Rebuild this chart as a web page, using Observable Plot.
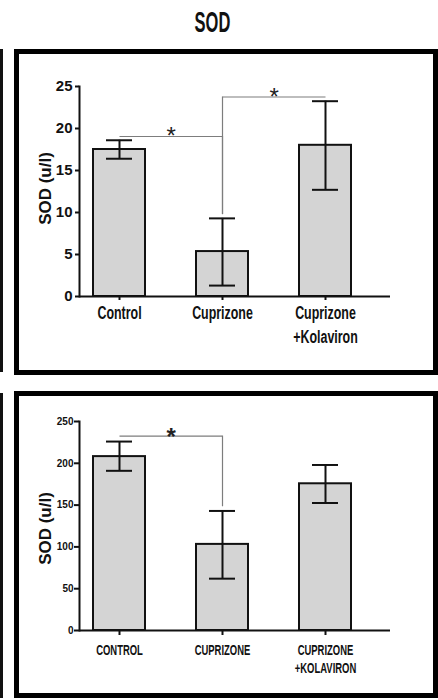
<!DOCTYPE html>
<html>
<head>
<meta charset="utf-8">
<script src="https://cdn.jsdelivr.net/npm/d3@7"></script>
<script src="https://cdn.jsdelivr.net/npm/@observablehq/plot@0.6"></script>
<style>
html,body{margin:0;padding:0;background:#fff;}
body{position:relative;width:438px;height:700px;overflow:hidden;font-family:"Liberation Sans",Arial,sans-serif;}
#title{position:absolute;left:0;top:7px;width:425px;text-align:center;font-family:"Liberation Sans",Arial,sans-serif;font-weight:bold;font-size:30px;line-height:30px;transform:scaleX(0.55);transform-origin:212.5px 0;color:#111;}
.panel{position:absolute;box-sizing:border-box;border:5px solid #000;background:#fff;}
.panel svg{display:block;}
.edge{position:absolute;left:0;width:3px;background:#111;}
</style>
</head>
<body>
<div class="edge" style="top:49px;height:323px"></div>
<div class="edge" style="top:393px;height:305px"></div>
<div id="title">SOD</div>
<div class="panel" id="p1" style="left:14px;top:49px;width:424px;height:326px"></div>
<div class="panel" id="p2" style="left:14px;top:391px;width:424px;height:307px"></div>
<script>
// ---- Panel 1 data ----
const groups1 = ["Control", "Cuprizone", "Cuprizone\n+Kolaviron"];
const mean1 = [17.5, 5.35, 18.0];
const low1 = [16.4, 1.3, 12.7];
const high1 = [18.6, 9.3, 23.25];
const yTicks1 = [0, 5, 10, 15, 20, 25];
const sigFrom1 = [0, 1];
const sigTo1 = [1, 2];
const sigLevel1 = [19.05, 23.75];
const sigDropAt1 = [1, 1];
const sigDropTo1 = [9.75, 9.75];
const yLabel1 = "SOD (u/l)";

// ---- Panel 2 data ----
const groups2 = ["CONTROL", "CUPRIZONE", "CUPRIZONE\n+KOLAVIRON"];
const mean2 = [208, 103, 175.5];
const low2 = [191, 62, 152.5];
const high2 = [226, 143, 198];
const yTicks2 = [0, 50, 100, 150, 200, 250];
const sigFrom2 = [0];
const sigTo2 = [1];
const sigLevel2 = [232.5];
const sigDropAt2 = [1];
const sigDropTo2 = [148];
const yLabel2 = "SOD (u/l)";

const FONT = "'Liberation Sans', Arial, sans-serif";

function condense(root, selector, factor) {
  root.querySelectorAll(selector + " text").forEach(t => {
    const spans = t.querySelectorAll("tspan");
    const targets = spans.length ? Array.from(spans) : [t];
    targets.forEach(el => {
      const w = el.getComputedTextLength();
      if (w > 0) {
        el.setAttribute("textLength", (w * factor).toFixed(2));
        el.setAttribute("lengthAdjust", "spacingAndGlyphs");
      }
    });
  });
}

function makePanel(c) {
  const rows = c.groups.map((g, i) => ({g, m: c.mean[i], lo: c.low[i], hi: c.high[i]}));
  const sig = c.sigFrom.map((f, i) => ({
    a: c.groups[f], b: c.groups[c.sigTo[i]], y: c.sigLevel[i],
    at: c.groups[c.sigDropAt[i]], drop: c.sigDropTo[i]
  }));
  return Plot.plot({
    width: 414,
    height: c.height,
    marginLeft: 60,
    marginRight: 43,
    marginTop: c.marginTop,
    marginBottom: c.marginBottom,
    style: {background: "transparent", overflow: "visible", color: "#111", fontFamily: FONT},
    x: {domain: c.groups, range: [73.75, 332.5], paddingInner: 0.5, paddingOuter: 0, label: null},
    y: {domain: [0, c.ymax], label: null},
    marks: [
      Plot.barY(rows, {x: "g", y: "m", fill: "#d4d4d4", stroke: "#111", strokeWidth: 2}),
      Plot.ruleX(rows, {x: "g", y1: "lo", y2: "hi", stroke: "#111", strokeWidth: 2}),
      Plot.tickY(rows, {x: "g", y: "hi", insetLeft: 13, insetRight: 13, stroke: "#111", strokeWidth: 2}),
      Plot.tickY(rows, {x: "g", y: "lo", insetLeft: 13, insetRight: 13, stroke: "#111", strokeWidth: 2}),
      Plot.link(sig, {x1: "a", x2: "b", y1: "y", y2: "y", stroke: "#7d7d7d", strokeWidth: 1.2}),
      Plot.ruleX(sig, {x: "at", y1: "y", y2: "drop", stroke: "#7d7d7d", strokeWidth: 1.2}),
      Plot.text(sig, {x: "a", y: "y", text: () => "*", dx: 51.75, dy: c.sigDy, fontSize: c.sigFont, fontWeight: c.sigWeight, lineAnchor: "middle", fill: "#222", ariaLabel: "sig"}),
      Plot.ruleY([0], {stroke: "#111", strokeWidth: 2}),
      Plot.frame({anchor: "left", stroke: "#111", strokeWidth: 2}),
      Plot.axisY({ticks: c.yTicks, tickSize: c.yTickSize, tickPadding: c.yTickPad, strokeWidth: 2, fontSize: c.yFont, fontWeight: "bold", label: null}),
      Plot.axisX({tickSize: c.xTickSize, tickPadding: c.xTickPad, strokeWidth: 2, fontSize: c.xFont, fontWeight: "bold", lineHeight: c.xLine, label: null}),
      Plot.text([c.yLabel], {frameAnchor: "left", rotate: -90, dx: -34, dy: c.yLabelDy, fontSize: 17, fontWeight: "bold", textAnchor: "middle", lineAnchor: "middle", ariaLabel: "ylabel"})
    ]
  });
}

const p1 = makePanel({
  groups: groups1, mean: mean1, low: low1, high: high1, yTicks: yTicks1, ymax: 25,
  sigFrom: sigFrom1, sigTo: sigTo1, sigLevel: sigLevel1, sigDropAt: sigDropAt1, sigDropTo: sigDropTo1,
  yLabel: yLabel1, height: 316, marginTop: 32, marginBottom: 74,
  yTickSize: 4, yTickPad: 3, yFont: 15,
  xTickSize: 4, xTickPad: 2, xFont: 18, xLine: 1.3, yLabelDy: -3,
  sigFont: 24, sigWeight: "normal", sigDy: 0
});
document.getElementById("p1").appendChild(p1);

const p2 = makePanel({
  groups: groups2, mean: mean2, low: low2, high: high2, yTicks: yTicks2, ymax: 250,
  sigFrom: sigFrom2, sigTo: sigTo2, sigLevel: sigLevel2, sigDropAt: sigDropAt2, sigDropTo: sigDropTo2,
  yLabel: yLabel2, height: 297, marginTop: 25, marginBottom: 63,
  yTickSize: 5, yTickPad: 1, yFont: 10,
  xTickSize: 5, xTickPad: 6, xFont: 15, xLine: 1.24, yLabelDy: 2.5,
  sigFont: 24, sigWeight: "bold", sigDy: 1
});
document.getElementById("p2").appendChild(p2);

condense(p1, '[aria-label="x-axis tick label"]', 0.69);
condense(p1, '[aria-label="ylabel"]', 0.83);
condense(p2, '[aria-label="x-axis tick label"]', 0.63);
condense(p2, '[aria-label="ylabel"]', 0.83);
</script>
</body>
</html>
